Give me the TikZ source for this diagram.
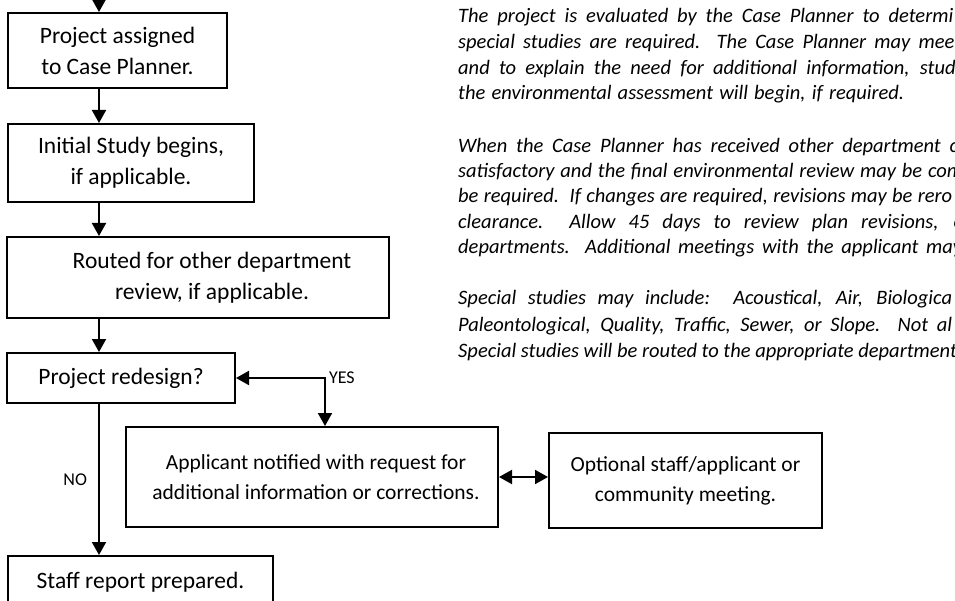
\documentclass[tikz,border=0pt]{standalone}
\usepackage{fontspec}
\setmainfont{Carlito}
\usetikzlibrary{arrows.meta,positioning}

% a justified line of given width (in pt)
\newcommand{\fillline}[2]{\makebox[#1pt][s]{#2}}

\begin{document}
\begin{tikzpicture}[
		x=1pt, y=-1pt,
		font=\fontsize{23.5}{31}\selectfont,
		stepbox/.style={draw, line width=2pt, align=center, inner sep=0pt},
		lowbox/.style={stepbox, font=\fontsize{21.5}{30}\selectfont},
		flow/.style={line width=2pt, -{Triangle[length=13pt,width=14pt]}},
		twoway/.style={line width=2pt, {Triangle[length=13pt,width=14pt]}-{Triangle[length=13pt,width=14pt]}},
		answer/.style={font=\fontsize{18}{20}\selectfont, inner sep=1pt},
		note/.style={anchor=base west, inner sep=0pt, font=\fontsize{20.5}{25.5}\selectfont\itshape}
		]
		\clip (0,0) rectangle (955,601);
		\fill[white] (0,0) rectangle (955,601);
		
		% column of the main flow
		\coordinate (spine) at (99,0);
		\coordinate (yescol) at (325,0);
		
		% boxes
		\node[stepbox, minimum width=219pt, minimum height=75pt] (assigned) at (117.5,50.5) {Project assigned\\to Case Planner.};
		\node[stepbox, minimum width=246pt, minimum height=78pt] (initial) at (131,163) {Initial Study begins,\\if applicable.};
		\node[stepbox, minimum width=382pt, minimum height=81pt] (routed) at (198,277.5) {\hspace*{28pt}Routed for other department\\\hspace*{28pt}review, if applicable.};
		\node[stepbox, minimum width=228pt, minimum height=50pt] (redesign) at (121,378) {Project redesign?};
		\node[stepbox, minimum width=265pt, minimum height=52pt] (staff) at (140.5,582) {Staff report prepared.};
		\node[lowbox, minimum width=372pt, minimum height=100pt] (applicant) at (312,477) {\hspace*{8pt}Applicant notified with request for\\\hspace*{8pt}additional information or corrections.};
		\node[lowbox, minimum width=273pt, minimum height=95pt] (optional) at (685.5,480.5) {Optional staff/applicant or\\community meeting.};
		
		% arrows
		\draw[flow] (spine) -- (assigned.north -| spine);
		\draw[flow] (assigned.south -| spine) -- (initial.north -| spine);
		\draw[flow] (initial.south -| spine) -- (routed.north -| spine);
		\draw[flow] (routed.south -| spine) -- (redesign.north -| spine);
		\draw[flow] (redesign.south -| spine) -- node[answer, midway, left=10pt] {NO} (staff.north -| spine);
		\draw[twoway] (redesign.east) -| node[answer, pos=0.5, right=2pt] {YES} (applicant.north -| yescol);
		\draw[twoway] (applicant.east) -- (applicant.east -| optional.west);
		
		% notes
		\node[note] (evala) at (458,23) {\fillline{495}{The project is evaluated by the Case Planner to determi}};
		\node[note] (evalb) at (458,49) {\fillline{503}{special studies are required.\ \ The Case Planner may meet}};
		\node[note] (evalc) at (458,75) {\fillline{512}{and to explain the need for additional information, studie}};
		\node[note] (evald) at (458,100) {\fillline{446}{the environmental assessment will begin, if required.}};
		
		\node[note] (reva) at (458,153) {\fillline{500}{When the Case Planner has received other department c}};
		\node[note] (revb) at (458,178) {\fillline{505}{satisfactory and the final environmental review may be com}};
		\node[note] (revc) at (458,203) {\fillline{494}{be required.\ \ If changes are required, revisions may be rero}};
		\node[note] (revd) at (458,229) {\fillline{506}{clearance.\ \ Allow 45 days to review plan revisions, o}};
		\node[note] (reve) at (458,254) {\fillline{504}{departments.\ \ Additional meetings with the applicant may}};
		
		\node[note] (spca) at (458,305) {\fillline{494}{Special studies may include:\ \ Acoustical, Air, Biologica}};
		\node[note] (spcb) at (458,331) {\fillline{494}{Paleontological, Quality, Traffic, Sewer, or Slope.\ \ Not al}};
		\node[note] (spcc) at (458,357) {Special studies will be routed to the appropriate department};
\end{tikzpicture}
\end{document}
